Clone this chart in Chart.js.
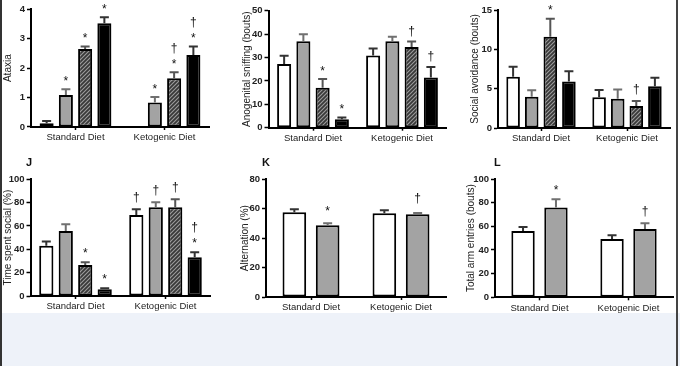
<!DOCTYPE html>
<html><head><meta charset="utf-8">
<script src="https://cdn.jsdelivr.net/npm/chart.js@4"></script>
<style>
html,body{margin:0;padding:0;background:#fff;}
#wrap{position:relative;width:680px;height:366px;overflow:hidden;background:#fff;font-family:Arial,"Liberation Sans",sans-serif;}
#band{position:absolute;left:0;top:313px;width:680px;height:53px;background:#eef2f9;}
canvas{position:absolute;left:0;top:0;}
.lbl{position:absolute;font:bold 11px Arial,"Liberation Sans",sans-serif;color:#111;line-height:11px;}
#edgeL{position:absolute;left:0;top:0;width:2px;height:366px;background:#333;}
#edgeR{position:absolute;left:676px;top:0;width:1.5px;height:366px;background:#444;}
</style></head>
<body><div id="wrap">
<div id="band"></div>
<canvas id="c1" width="680" height="366"></canvas>
<canvas id="c2" width="680" height="366"></canvas>
<canvas id="c3" width="680" height="366"></canvas>
<canvas id="c4" width="680" height="366"></canvas>
<canvas id="c5" width="680" height="366"></canvas>
<canvas id="c6" width="680" height="366"></canvas>
<div class="lbl" style="left:26px;top:157px;">J</div>
<div class="lbl" style="left:262px;top:157px;">K</div>
<div class="lbl" style="left:494px;top:157px;">L</div>
<div id="edgeL"></div><div id="edgeR"></div>
</div>
<script>
// ---------- data ----------
const categories = ['Standard Diet', 'Ketogenic Diet'];
const seriesNames = ['Group 1', 'Group 2', 'Group 3', 'Group 4'];

// order of rows: white, gray, hatched, black; columns: Standard, Ketogenic
const ataxiaMean  = [[0.13, 0], [1.09, 0.83], [2.65, 1.66], [3.53, 2.45]];
const ataxiaSem   = [[0.07, 0], [0.19, 0.19], [0.09, 0.20], [0.20, 0.29]];
const ataxiaMarks = [['', ''], ['*', '*'], ['*', '*†'], ['*', '*†']];

const sniffMean  = [[27.2, 30.9], [36.9, 36.9], [17.1, 34.5], [3.6, 21.4]];
const sniffSem   = [[3.6, 2.9], [3.0, 2.0], [3.7, 2.3], [0.8, 4.5]];
const sniffMarks = [['', ''], ['', ''], ['*', '†'], ['*', '†']];

const avoidMean  = [[6.53, 3.9], [3.98, 3.73], [11.6, 2.8], [5.9, 5.3]];
const avoidSem   = [[1.27, 0.93], [0.81, 1.17], [2.3, 0.63], [1.3, 1.1]];
const avoidMarks = [['', ''], ['', ''], ['*', '†'], ['', '']];

const socialMean  = [[43.1, 69.4], [55.7, 76.0], [26.6, 76.0], [5.7, 33.1]];
const socialSem   = [[3.5, 4.9], [5.7, 4.3], [2.3, 6.9], [0.9, 4.3]];
const socialMarks = [['', '†'], ['', '†'], ['*', '†'], ['*', '*†']];

const altMean  = [[57.6, 56.9], [48.7, 56.2]];
const altSem   = [[2.0, 2.0], [1.4, 0.9]];
const altMarks = [['', ''], ['*', '†']];

const armMean  = [[56.0, 49.3], [76.0, 57.7]];
const armSem   = [[3.4, 3.1], [6.8, 4.8]];
const armMarks = [['', ''], ['*', '†']];

const ataxiaTicks = {max: 4, step: 1};
const sniffTicks  = {max: 50, step: 10};
const avoidTicks  = {max: 15, step: 5};
const socialTicks = {max: 100, step: 20};
const altTicks    = {max: 80, step: 20};
const armTicks    = {max: 100, step: 20};

// ---------- styles ----------
function hatch() {
  const s = 4, c = document.createElement('canvas');
  c.width = s; c.height = s;
  const g = c.getContext('2d');
  g.fillStyle = '#383838'; g.fillRect(0, 0, s, s);
  g.strokeStyle = '#9c9c9c'; g.lineWidth = 1.1;
  g.beginPath();
  g.moveTo(-1, 1); g.lineTo(1, -1);
  g.moveTo(0, s); g.lineTo(s, 0);
  g.moveTo(s - 1, s + 1); g.lineTo(s + 1, s - 1);
  g.stroke();
  return document.createElement('canvas').getContext('2d').createPattern(c, 'repeat');
}
const hatchPattern = hatch();
const fills = ['#ffffff', '#a3a3a3', hatchPattern, '#000000'];
const errColors = ['#333333', '#707070', '#555555', '#333333'];
const FONT = 'Arial, "Liberation Sans", sans-serif';

const errPlugin = {
  id: 'errbars',
  afterDatasetsDraw(chart) {
    const ctx = chart.ctx, ys = chart.scales.y;
    const gap = chart.options.plugins.errbars.gap;
    chart.data.datasets.forEach((ds, i) => {
      const meta = chart.getDatasetMeta(i);
      meta.data.forEach((bar, j) => {
        const sem = ds.sem[j];
        const topVal = ds.data[j] + (sem || 0);
        const top = ys.getPixelForValue(topVal);
        ctx.save();
        if (sem) {
          ctx.strokeStyle = ds.errColor; ctx.lineWidth = 2;
          ctx.beginPath();
          ctx.moveTo(bar.x, bar.y); ctx.lineTo(bar.x, top);
          ctx.moveTo(bar.x - 4.5, top); ctx.lineTo(bar.x + 4.5, top);
          ctx.stroke();
        }
        const m = ds.marks[j] || '';
        ctx.fillStyle = '#111';
        ctx.textAlign = 'center'; ctx.textBaseline = 'alphabetic';
        ctx.font = '12px ' + FONT;
        [...m].forEach((ch, k) => {
          const cy = top - gap - k * 13.5;
          ctx.fillText(ch, bar.x, cy + (ch === '*' ? 7 : 4));
        });
        ctx.restore();
      });
    });
  }
};

function panel(id, area, means, sems, marks, tk, title, catPct, barPct, gap) {
  const datasets = means.map((m, i) => ({
    label: seriesNames[i],
    data: m,
    sem: sems[i],
    marks: marks[i],
    errColor: errColors[i],
    backgroundColor: fills[i],
    borderColor: '#000',
    borderWidth: 2,
    borderSkipped: false,
    categoryPercentage: catPct,
    barPercentage: barPct
  }));
  const yW = area.axis - area.padL;
  const xH = 20;
  new Chart(document.getElementById(id), {
    type: 'bar',
    data: {labels: categories, datasets},
    plugins: [errPlugin],
    options: {
      responsive: false, animation: false, devicePixelRatio: 1,
      layout: {padding: {left: area.padL, right: 680 - area.right, top: area.top, bottom: 366 - area.bottom - xH}},
      plugins: {legend: {display: false}, tooltip: {enabled: false}, errbars: {gap}},
      scales: {
        x: {
          offset: true,
          grid: {display: true, drawOnChartArea: false, drawTicks: true, tickLength: 3, offset: false, tickColor: '#000', tickWidth: 1.5},
          border: {color: '#000', width: 2},
          ticks: {font: {size: 9.5, family: FONT}, color: '#222', padding: 2, maxRotation: 0, autoSkip: false},
          afterFit(s) { s.height = xH; }
        },
        y: {
          min: 0, max: tk.max,
          ticks: {stepSize: tk.step, font: {size: 9.5, weight: 'bold', family: FONT}, color: '#222', padding: 2},
          grid: {display: true, drawOnChartArea: false, drawTicks: true, tickLength: 4, tickColor: '#000', tickWidth: 1.5},
          border: {color: '#000', width: 2},
          title: {display: true, text: title, font: {size: 10, family: FONT}, color: '#222', padding: 0},
          afterFit(s) { s.width = yW; }
        }
      }
    }
  });
}

const C4 = 0.865, B4 = 0.73, C2 = 0.74, B2 = 0.71;
panel('c1', {padL: 2.5, axis: 31, right: 209, top: 9.3, bottom: 127}, ataxiaMean, ataxiaSem, ataxiaMarks, ataxiaTicks, 'Ataxia', C4, B4, 11);
panel('c2', {padL: 241, axis: 268.5, right: 446.5, top: 10.7, bottom: 127.7}, sniffMean, sniffSem, sniffMarks, sniffTicks, 'Anogenital sniffing (bouts)', C4, B4, 11);
panel('c3', {padL: 469, axis: 498, right: 670, top: 10, bottom: 128}, avoidMean, avoidSem, avoidMarks, avoidTicks, 'Social avoidance (bouts)', C4, B4, 12);
panel('c4', {padL: 2, axis: 30.5, right: 210.5, top: 179.3, bottom: 296}, socialMean, socialSem, socialMarks, socialTicks, 'Time spent social (%)', C4, B4, 12);
panel('c5', {padL: 239, axis: 266, right: 446, top: 179.3, bottom: 297}, altMean, altSem, altMarks, altTicks, 'Alternation (%)', C2, B2, 15);
panel('c6', {padL: 465, axis: 495, right: 673, top: 179, bottom: 297.3}, armMean, armSem, armMarks, armTicks, 'Total arm entries (bouts)', C2, B2, 12);
</script>
</body></html>
